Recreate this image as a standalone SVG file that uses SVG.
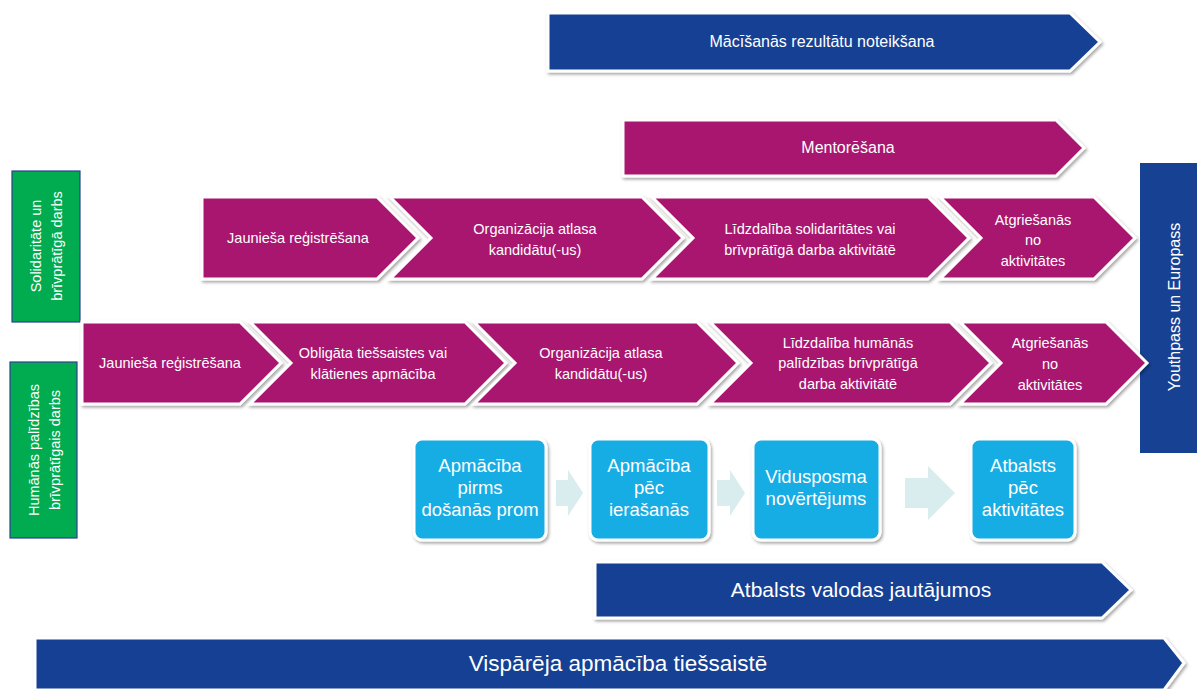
<svg xmlns="http://www.w3.org/2000/svg" width="1197" height="689" viewBox="0 0 1197 689">
<defs>
<filter id="sh" x="-5%" y="-10%" width="110%" height="130%">
<feDropShadow dx="1.5" dy="2" stdDeviation="1.8" flood-color="#000" flood-opacity="0.35"/>
</filter>
<style>
.blue{fill:#174193;stroke:#fff;stroke-width:3;stroke-linejoin:miter;filter:url(#sh)}
.mag{fill:#a8176f;stroke:#fff;stroke-width:3;filter:url(#sh)}
.grn{fill:#00ac4f;stroke:#2e3f9a;stroke-width:1.2}
.lb{fill:#17ade4;stroke:#fff;stroke-width:3;filter:url(#sh)}
.arr{fill:#d9ecee}
text{font-family:"Liberation Sans",Arial,sans-serif;fill:#fff;text-anchor:middle}
.t14{font-size:14.5px}
.t15{font-size:16px}
.t18{font-size:18.5px}
.t19{font-size:21px}
.t20{font-size:22.5px}
</style>
</defs>
<rect width="1197" height="689" fill="#fff"/>

<g id="learning-outcomes">
<polygon class="blue" points="548,13 1070,13 1100,42 1070,71 548,71"/>
<text class="t15" x="822" y="47">Mācīšanās rezultātu noteikšana</text>
</g>

<g id="mentoring">
<polygon class="mag" points="623,120 1056,120 1084,148 1056,176 623,176"/>
<text class="t15" x="848" y="153">Mentorēšana</text>
</g>

<g id="green-solidarity">
<rect class="grn" x="12" y="171" width="68" height="151"/>
<text class="t14" transform="translate(46,246) rotate(-90)"><tspan x="0" y="-5">Solidaritāte un</tspan><tspan x="0" y="16">brīvprātīgā darbs</tspan></text>
</g>

<g id="green-humanitarian">
<rect class="grn" x="10" y="362" width="67" height="176"/>
<text class="t14" transform="translate(44,450) rotate(-90)"><tspan x="0" y="-5">Humānās palīdzības</tspan><tspan x="0" y="16">brīvprātīgais darbs</tspan></text>
</g>

<g id="youthpass">
<rect x="1140" y="163" width="60" height="290" fill="#174193"/>
<text class="t15" transform="translate(1175,307) rotate(-90)" y="5">Youthpass un Europass</text>
</g>

<g id="r1-registration">
<polygon class="mag" points="202,197 377,197 418,238 377,279 202,279"/>
<text class="t14" x="298" y="243">Jaunieša reģistrēšana</text>
</g>
<g id="r1-selection">
<polygon class="mag" points="390,197 642,197 683,238 642,279 390,279 431,238"/>
<text class="t14" x="535" y="234">Organizācija atlasa</text>
<text class="t14" x="535" y="255">kandidātu(-us)</text>
</g>
<g id="r1-participation">
<polygon class="mag" points="652,197 928,197 969,238 928,279 652,279 693,238"/>
<text class="t14" x="810" y="234">Līdzdalība solidaritātes vai</text>
<text class="t14" x="810" y="255">brīvprātīgā darba aktivitātē</text>
</g>
<g id="r1-return">
<polygon class="mag" points="940,197 1094,197 1135,238 1094,279 940,279 981,238"/>
<text class="t14" x="1033" y="225">Atgriešanās</text>
<text class="t14" x="1033" y="245">no</text>
<text class="t14" x="1033" y="266">aktivitātes</text>
</g>

<g id="r2-registration">
<polygon class="mag" points="82,322 240,322 281,363 240,404 82,404"/>
<text class="t14" x="170" y="368">Jaunieša reģistrēšana</text>
</g>
<g id="r2-training">
<polygon class="mag" points="250,322 465,322 506,363 465,404 250,404 291,363"/>
<text class="t14" x="373" y="358">Obligāta tiešsaistes vai</text>
<text class="t14" x="373" y="379">klātienes apmācība</text>
</g>
<g id="r2-selection">
<polygon class="mag" points="474,322 697,322 738,363 697,404 474,404 515,363"/>
<text class="t14" x="601" y="358">Organizācija atlasa</text>
<text class="t14" x="601" y="379">kandidātu(-us)</text>
</g>
<g id="r2-participation">
<polygon class="mag" points="710,322 950,322 991,363 950,404 710,404 751,363"/>
<text class="t14" x="848" y="348">Līdzdalība humānās</text>
<text class="t14" x="848" y="368">palīdzības brīvprātīgā</text>
<text class="t14" x="848" y="389">darba aktivitātē</text>
</g>
<g id="r2-return">
<polygon class="mag" points="960,322 1106,322 1147,363 1106,404 960,404 1001,363"/>
<text class="t14" x="1050" y="348">Atgriešanās</text>
<text class="t14" x="1050" y="369">no</text>
<text class="t14" x="1050" y="390">aktivitātes</text>
</g>

<g id="connectors">
<polygon class="arr" points="556,480 568,480 568,470 583,493 568,516 568,506 556,506"/>
<polygon class="arr" points="717,480 730,480 730,470 745,493 730,516 730,506 717,506"/>
<polygon class="arr" points="905,478 928,478 928,466 955,493 928,520 928,508 905,508"/>
</g>

<g id="pre-departure">
<rect class="lb" x="414" y="439" width="132" height="101" rx="8"/>
<text class="t18" x="480" y="472">Apmācība</text>
<text class="t18" x="480" y="494">pirms</text>
<text class="t18" x="480" y="516">došanās prom</text>
</g>
<g id="on-arrival">
<rect class="lb" x="590" y="439" width="119" height="101" rx="8"/>
<text class="t18" x="649" y="472">Apmācība</text>
<text class="t18" x="649" y="494">pēc</text>
<text class="t18" x="649" y="516">ierašanās</text>
</g>
<g id="mid-term">
<rect class="lb" x="753" y="439" width="127" height="101" rx="8"/>
<text class="t18" x="816" y="483">Vidusposma</text>
<text class="t18" x="816" y="505">novērtējums</text>
</g>
<g id="post-activity">
<rect class="lb" x="971" y="439" width="104" height="101" rx="8"/>
<text class="t18" x="1023" y="472">Atbalsts</text>
<text class="t18" x="1023" y="494">pēc</text>
<text class="t18" x="1023" y="516">aktivitātes</text>
</g>

<g id="language-support">
<polygon class="blue" points="595,562 1102,562 1131,590 1102,618 595,618"/>
<text class="t19" x="861" y="597">Atbalsts valodas jautājumos</text>
</g>

<g id="general-online">
<polygon class="blue" points="35,638 1164,638 1184,663 1164,690 35,690"/>
<text class="t20" x="618" y="671">Vispārēja apmācība tiešsaistē</text>
</g>
</svg>
